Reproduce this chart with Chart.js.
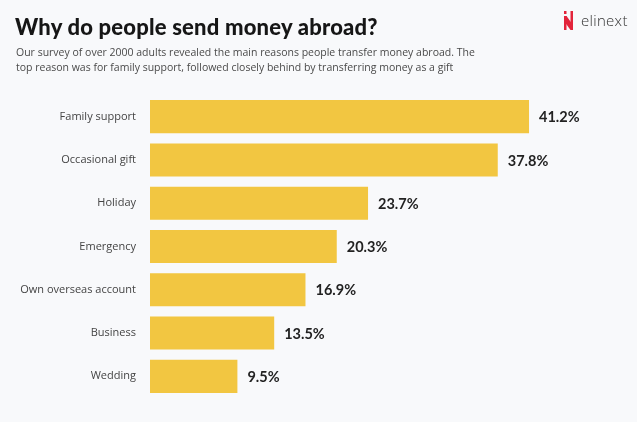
<!DOCTYPE html>
<html>
<head>
<meta charset="utf-8">
<script src="https://cdn.jsdelivr.net/npm/chart.js@4.4.1/dist/chart.umd.min.js"></script>
<style>
  html, body { margin: 0; padding: 0; background: #F8F9FB; }
  #wrap { position: relative; width: 637px; height: 422px; overflow: hidden; background: #F8F9FB; }
  #c { position: absolute; left: 0; top: 0; }
  .title { position: absolute; left: 15px; top: 13px; font-family: Lato, "Open Sans", sans-serif; font-weight: 900; font-size: 22px; color: #161616; letter-spacing: 0.2px; z-index: 2; }
  .sub { position: absolute; left: 16px; top: 45px; width: 462px; font-family: "Open Sans", Lato, sans-serif; font-size: 10.5px; line-height: 14.5px; color: #4a4a4a; z-index: 2; }
  .logo { position: absolute; left: 564px; top: 10px; z-index: 2; display: flex; align-items: center; }
  .logo span { font-family: "Open Sans", sans-serif; font-weight: 300; font-size: 15px; color: #333; margin-left: 8px; letter-spacing: 0.3px; }
</style>
</head>
<body>
<div id="wrap">
  <div class="title">Why do people send money abroad?</div>
  <div class="sub">Our survey of over 2000 adults revealed the main reasons people transfer money abroad. The top reason was for family support, followed closely behind by transferring money as a gift</div>
  <div class="logo">
    <svg width="9" height="19" viewBox="0 0 9 19">
      <rect x="0" y="0" width="2.5" height="3" fill="#E3243B"/>
      <rect x="0" y="5" width="2.5" height="14" fill="#E3243B"/>
      <polygon points="0,5 2.5,5 9,14 9,19 6.5,19 0,10" fill="#E3243B"/>
      <rect x="6.5" y="0" width="2.5" height="14" fill="#E3243B"/>
    </svg>
    <span>elinext</span>
  </div>
  <canvas id="c" width="637" height="422"></canvas>
</div>
<script>
const categories = ["Family support", "Occasional gift", "Holiday", "Emergency", "Own overseas account", "Business", "Wedding"];
const values = [41.2, 37.8, 23.7, 20.3, 16.9, 13.5, 9.5];
const valueLabels = ["41.2%", "37.8%", "23.7%", "20.3%", "16.9%", "13.5%", "9.5%"];

const valueLabelPlugin = {
  id: 'valueLabels',
  afterDatasetsDraw(chart) {
    const ctx = chart.ctx;
    const meta = chart.getDatasetMeta(0);
    ctx.save();
    ctx.font = "bold 14.5px Lato, 'Open Sans', sans-serif";
    ctx.fillStyle = "#222222";
    ctx.textAlign = "left";
    ctx.textBaseline = "middle";
    meta.data.forEach((bar, i) => {
      ctx.fillText(valueLabels[i], bar.x + 10, bar.y + 1);
    });
    ctx.restore();
  }
};

new Chart(document.getElementById('c'), {
  type: 'bar',
  data: {
    labels: categories,
    datasets: [{
      data: values,
      backgroundColor: '#F2C641',
      borderWidth: 0,
      categoryPercentage: 0.78,
      barPercentage: 0.98
    }]
  },
  options: {
    indexAxis: 'y',
    responsive: false,
    animation: false,
    layout: { padding: { top: 95, bottom: 24, right: 27, left: 0 } },
    plugins: { legend: { display: false }, tooltip: { enabled: false } },
    scales: {
      x: { display: false, min: 0, max: 50 },
      y: {
        grid: { display: false, drawTicks: false },
        border: { display: false },
        ticks: {
          padding: 14,
          color: '#444444',
          font: { family: "'Open Sans', Lato, sans-serif", size: 11 }
        },
        afterFit(scale) { scale.width = 150; }
      }
    }
  },
  plugins: [valueLabelPlugin]
});
</script>
</body>
</html>
